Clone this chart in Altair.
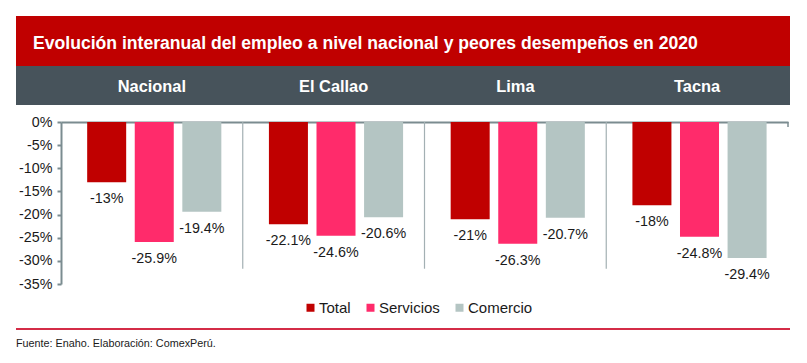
import altair as alt
import pandas as pd

regions = ["Nacional", "El Callao", "Lima", "Tacna"]
series = ["Total", "Servicios", "Comercio"]
total = [-13.0, -22.1, -21.0, -18.0]
servicios = [-25.9, -24.6, -26.3, -24.8]
comercio = [-19.4, -20.6, -20.7, -29.4]
y_ticks = [0, -5, -10, -15, -20, -25, -30, -35]
colors = ["#C00000", "#FF2B6B", "#B4C5C3"]
title_text = "Evolución interanual del empleo a nivel nacional y peores desempeños en 2020"
source_text = "Fuente: Enaho. Elaboración: ComexPerú."

FONT = "Liberation Sans"
AXIS_COLOR = "#7B8C90"

rows = []
for i, r in enumerate(regions):
    for s, vals in zip(series, [total, servicios, comercio]):
        rows.append({"Region": r, "Serie": s, "Valor": vals[i]})
df = pd.DataFrame(rows)

W, H = 727, 162

x_axis = alt.Axis(orient="top", labels=False, ticks=False, title=None,
                  domainColor=AXIS_COLOR, domainWidth=2, grid=False)
y_axis = alt.Axis(values=y_ticks, labelExpr="datum.value + '%'", title=None,
                  grid=False, domainColor=AXIS_COLOR, domainWidth=2,
                  tickColor=AXIS_COLOR, tickWidth=2, tickSize=4,
                  labelFontSize=14.3, labelFont=FONT, labelColor="#1a1a1a",
                  labelPadding=5, labelOverlap=False, labelFlush=False,
                  labelBound=False)
x_scale = alt.Scale(paddingInner=0, paddingOuter=0)
y_scale = alt.Scale(domain=[-35, 0], nice=False, zero=False)

x_enc = alt.X("Region:N", sort=regions, scale=x_scale, axis=x_axis)
xoff = alt.XOffset("Serie:N", sort=series,
                   scale=alt.Scale(paddingInner=0.18, paddingOuter=0.5, align=0.55))
y_enc = alt.Y("Valor:Q", scale=y_scale, axis=y_axis)

one = pd.DataFrame({"k": [0]})

banner = alt.Chart(one).mark_rect(color="#C00000").encode(
    x=alt.value(-45), x2=alt.value(729), y=alt.value(-106), y2=alt.value(-56))
header = alt.Chart(one).mark_rect(color="#47535B").encode(
    x=alt.value(-45), x2=alt.value(729), y=alt.value(-56), y2=alt.value(-17))
title = alt.Chart(one).mark_text(align="left", baseline="middle", font=FONT,
                                 fontSize=17.6, fontWeight="bold", color="white").encode(
    x=alt.value(-28), y=alt.value(-78), text=alt.value(title_text))

head_labels = alt.Chart(pd.DataFrame({"Region": regions})).mark_text(
    baseline="middle", font=FONT, fontSize=16.4, fontWeight="bold", color="white").encode(
    x=alt.X("Region:N", sort=regions, scale=x_scale, axis=x_axis),
    y=alt.value(-35.5), text="Region:N")

seps = alt.Chart(pd.DataFrame({"Region": regions[1:]})).mark_rule(
    color="#A3B0B3", strokeWidth=1.2).encode(
    x=alt.X("Region:N", sort=regions, bandPosition=0, scale=x_scale, axis=x_axis),
    y=alt.Y(datum=0, scale=y_scale, axis=y_axis), y2=alt.datum(-31.7))
end_tick = alt.Chart(pd.DataFrame({"Region": regions[-1:]})).mark_rule(
    color=AXIS_COLOR, strokeWidth=1.5).encode(
    x=alt.X("Region:N", sort=regions, bandPosition=1, scale=x_scale, axis=x_axis),
    y=alt.Y(datum=0, scale=y_scale, axis=y_axis), y2=alt.datum(-1.1))

bars = alt.Chart(df).mark_bar().encode(
    x=x_enc, xOffset=xoff, y=y_enc,
    color=alt.Color("Serie:N", sort=series,
                    scale=alt.Scale(domain=series, range=colors),
                    legend=alt.Legend(orient="none", legendX=242, legendY=178,
                                      direction="horizontal", title=None,
                                      symbolType="square", symbolSize=64,
                                      symbolStrokeWidth=0,
                                      labelFontSize=15, labelFont=FONT,
                                      labelColor="#1a1a1a", columnPadding=12,
                                      labelOffset=1, padding=0)))

labels = alt.Chart(df).transform_calculate(
    lab="datum.Valor + '%'").mark_text(
    baseline="middle", dy=17, font=FONT, fontSize=14.3, color="#1a1a1a").encode(
    x=x_enc, xOffset=xoff, y=y_enc, text="lab:N")

bottom_line = alt.Chart(one).mark_rule(color="#D42C47", strokeWidth=2).encode(
    x=alt.value(-45), x2=alt.value(729), y=alt.value(207))
source = alt.Chart(one).mark_text(align="left", baseline="middle", font=FONT,
                                  fontSize=10.8, color="#1a1a1a").encode(
    x=alt.value(-45), y=alt.value(222), text=alt.value(source_text))

chart = alt.layer(banner, header, title, bars, labels, head_labels, seps, end_tick,
                  bottom_line, source).properties(
    width=W, height=H,
    autosize=alt.AutoSizeParams(type="none"),
    padding={"left": 53, "top": 114, "right": 10, "bottom": 70},
).configure_view(stroke=None).configure_axis(labelOverlap=False)

chart.save("out.html", embed_options={"renderer": "svg", "actions": False})
